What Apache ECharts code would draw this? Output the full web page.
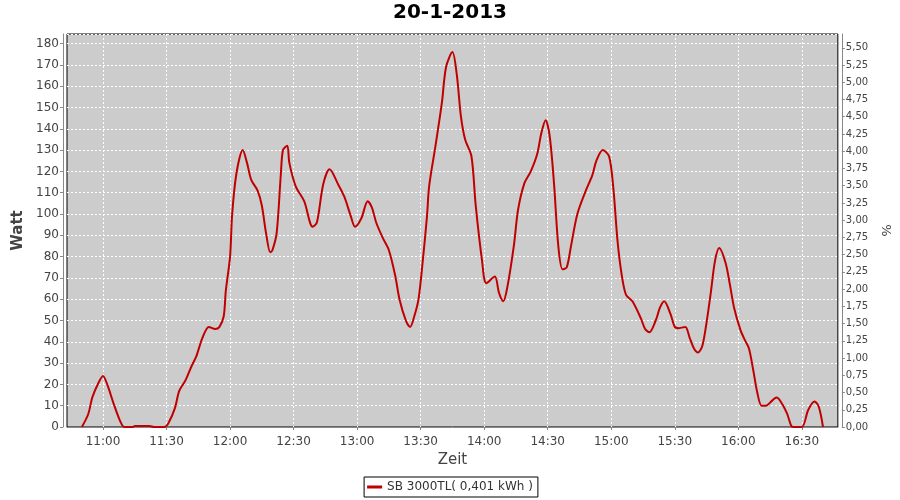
<!DOCTYPE html>
<html>
<head>
<meta charset="utf-8">
<script src="https://cdn.jsdelivr.net/npm/echarts@6/dist/echarts.min.js"></script>
<style>
html,body{margin:0;padding:0;background:#fff;}
#chart{width:900px;height:500px;}
</style>
</head>
<body>
<div id="chart"></div>
<script>
// Data (time of day, Watt)
var times = ["10:50","10:53","10:55","10:58","11:00","11:02","11:05","11:08","11:10","11:14","11:15","11:20","11:22","11:24","11:29",
"11:31","11:34","11:36","11:39","11:42","11:44","11:47","11:50","11:53","11:55","11:57","11:58","12:00","12:01","12:03",
"12:06","12:08","12:10","12:13","12:15","12:17","12:19","12:20","12:22","12:24","12:25","12:27","12:28","12:31","12:35",
"12:39","12:41","12:44","12:47","12:51","12:54","12:57","12:59","13:02","13:05","13:07","13:09","13:12","13:15","13:18",
"13:20","13:23","13:25","13:27","13:29","13:31","13:33","13:34","13:37","13:40","13:42","13:45","13:47","13:49","13:51",
"13:54","13:56","13:59","14:01","14:05","14:07","14:09","14:11","14:14","14:16","14:19","14:22","14:25","14:27","14:29",
"14:31","14:33","14:35","14:37","14:39","14:41","14:44","14:48","14:51","14:53","14:56","14:59","15:01","15:03","15:05",
"15:07","15:10","15:14","15:16","15:18","15:21","15:23","15:25","15:28","15:30","15:32","15:35","15:37","15:39","15:41",
"15:43","15:45","15:47","15:49","15:51","15:54","15:56","15:58","16:01","16:03","16:05","16:07","16:09","16:11","16:13",
"16:16","16:18","16:20","16:23","16:25","16:26","16:30","16:33","16:36","16:38","16:40"];
var watt = [0,6,14,21,24,20,11,3,0,0,0.5,0.5,0.5,0,0,
2,9,17,22,29,33,42,47,46,47,52,64,80,100,119,
130,124,116,111,104,91,82,83,91,119,130,132,124,113,106,
94,96,114,121,114,108,99,94,98,106,103,96,89,83,71,
60,50,47,52,60,78,99,113,132,152,169,176,166,146,135,
127,104,78,67.5,70.6,63,59,66,85,102,114.5,120,128,138,144,
136,114,85,74,75,85,100,111,118,125,130,127,112,87,71,
62,59,51,46,44.5,50,56,59,53,47,46.4,47,42,37,35,
38,49,63,78,84,77,67,56,45.6,41,37,27,16,10,10,
12.4,13.8,12,6.4,0.5,0,0,8,12,9.5,0];
var timeTicks = ["11:00","11:30","12:00","12:30","13:00","13:30","14:00","14:30","15:00","15:30","16:00","16:30"];
var seriesName = "SB 3000TL( 0,401 kWh )";
var chartTitle = "20-1-2013";
var xStart = "10:43", xEnd = "16:47";
var wattMax = 184.5, pctMax = 5.7;

function toMin(s){ var p = s.split(":"); return (+p[0])*60 + (+p[1]); }
function fmt(m){ var h = Math.floor(m/60), mm = Math.round(m - h*60); return h + ":" + (mm<10?"0":"") + mm; }
var seriesData = times.map(function(t,i){ return [toMin(t), watt[i]]; });
var tickVals = timeTicks.map(toMin);

var FONT = "DejaVu Sans";
var labelColor = "#444";
var axisGray = "#888";
var chart = echarts.init(document.getElementById('chart'), null, {renderer:'canvas'});
chart.setOption({
  animation:false,
  backgroundColor:'#fff',
  title:{text:chartTitle,left:'center',top:3,padding:0,
    textStyle:{fontFamily:FONT,fontSize:20,fontWeight:'bold',color:'#000'}},
  grid:{left:67,right:61,top:34,bottom:73,show:true,backgroundColor:'#cccccc',borderColor:'#000',borderWidth:1,containLabel:false},
  legend:{data:[{name:seriesName,icon:'rect'}],left:'center',top:477,orient:'horizontal',
    backgroundColor:'#fff',borderColor:'#000',borderWidth:1,padding:[4,5,4,3],
    itemWidth:15,itemHeight:3,itemGap:4,
    textStyle:{fontFamily:FONT,fontSize:12,color:'#333'}},
  xAxis:{type:'value',min:toMin(xStart),max:toMin(xEnd),offset:4,
    name:'Zeit',nameLocation:'middle',nameGap:20,
    nameTextStyle:{fontFamily:FONT,fontSize:15,color:labelColor},
    axisLine:{show:true,lineStyle:{color:axisGray,width:1}},
    axisTick:{show:true,length:3,customValues:tickVals,lineStyle:{color:axisGray}},
    axisLabel:{customValues:tickVals,formatter:function(v){return fmt(v);},
      fontFamily:FONT,fontSize:12,color:labelColor,margin:5},
    splitLine:{show:true,lineStyle:{color:'#fff',width:1,type:[2,2]}}},
  yAxis:[
    {type:'value',min:0,max:wattMax,interval:10,position:'left',offset:4,
     name:'Watt',nameLocation:'middle',nameGap:31,
     nameTextStyle:{fontFamily:FONT,fontSize:15,fontWeight:'bold',color:labelColor},
     axisLine:{show:true,lineStyle:{color:axisGray,width:1}},
     axisTick:{show:true,length:3,lineStyle:{color:axisGray}},
     axisLabel:{fontFamily:FONT,fontSize:12,color:labelColor,margin:4,showMaxLabel:false},
     splitLine:{show:true,lineStyle:{color:'#fff',width:1,type:[2,2]}}},
    {type:'value',min:0,max:pctMax,interval:0.25,position:'right',offset:4,
     name:'%',nameLocation:'middle',nameGap:36,nameRotate:-90,
     nameTextStyle:{fontFamily:FONT,fontSize:13,color:labelColor},
     axisLine:{show:true,lineStyle:{color:axisGray,width:1}},
     axisTick:{show:true,length:3,lineStyle:{color:axisGray}},
     axisLabel:{fontFamily:FONT,fontSize:10,color:labelColor,margin:4,showMaxLabel:false,
       formatter:function(v){return v.toFixed(2).replace('.',',');}},
     splitLine:{show:false}}
  ],
  series:[{name:seriesName,type:'line',yAxisIndex:0,data:seriesData,
    smooth:0.3,symbol:'none',showSymbol:false,clip:true,
    lineStyle:{color:'#c00000',width:2},itemStyle:{color:'#c00000'}}]
});
</script>
</body>
</html>
